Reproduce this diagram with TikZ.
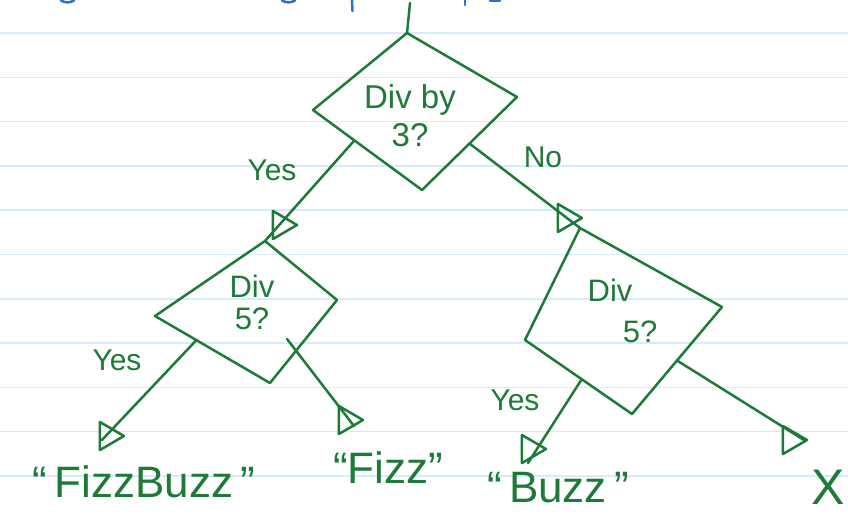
\documentclass[tikz,border=0pt]{standalone}
\usepackage{fontspec}
\setmainfont{Liberation Sans}
\usetikzlibrary{shapes.geometric,calc}
\definecolor{ink}{RGB}{30,122,56}
\definecolor{ruleblue}{RGB}{214,236,250}
\definecolor{blueink}{RGB}{50,110,205}
\begin{document}
\begin{tikzpicture}[x=1pt,y=-1pt,line cap=round,line join=round,
  edge/.style={draw=ink,line width=2.5pt},
  tipmark/.style={isosceles triangle,isosceles triangle stretches,draw=ink,line width=2.5pt,
    minimum width=28pt,minimum height=24pt,inner sep=0pt},
  lbl/.style={text=ink,font=\fontsize{30}{32}\selectfont},
  dtext/.style={text=ink,font=\fontsize{33}{38}\selectfont,align=center},
  dtextsm/.style={text=ink,font=\fontsize{31}{32}\selectfont,align=center},
  answer/.style={text=ink,font=\fontsize{44}{46}\selectfont,inner sep=1pt},
  paperline/.style={draw=ruleblue,line width=1.5pt},
  bluefrag/.style={draw=blueink,line width=2.5pt}]
\useasboundingbox (0,0) rectangle (848,515);
\fill[white] (0,0) rectangle (848,515);
\foreach \yy in {33,77.3,...,480} \draw[paperline] (0,\yy) -- (848,\yy);
% cut-off blue writing at the top
\draw[bluefrag] (61,0.5) .. controls (65,3) and (70,3) .. (74,0.5);
\draw[bluefrag] (282,0.5) .. controls (286,3) and (291,3) .. (295,0.5);
\draw[bluefrag] (352,0) -- (352.5,11);
\draw[bluefrag] (465,0) -- (465,5);
\draw[bluefrag] (490,0.3) -- (500,0.3);
% diamond 1
\coordinate (d1t) at (407,33);
\coordinate (d1r) at (517,97);
\coordinate (d1b) at (422,190);
\coordinate (d1l) at (313,110);
\draw[edge] (d1t) -- (d1r) -- (d1b) -- (d1l) -- cycle;
\node[dtext] (d1txt) at (410,116) {Div by\\3?};
% diamond 2
\coordinate (d2t) at (265,241);
\coordinate (d2r) at (337,300);
\coordinate (d2b) at (270,383);
\coordinate (d2l) at (155,316);
\draw[edge] (d2t) -- (d2r) -- (d2b) -- (d2l) -- cycle;
\node[dtextsm] (d2txt) at (252,302) {Div\\5?};
% diamond 3
\coordinate (d3t) at (580,228);
\coordinate (d3r) at (722,307);
\coordinate (d3b) at (632,414);
\coordinate (d3l) at (525,340);
\draw[edge] (d3t) -- (d3r) -- (d3b) -- (d3l) -- cycle;
\node[dtextsm] (d3txta) at (610,290) {Div};
\node[dtextsm] (d3txtb) at (640,332) {5?};
% entry
\coordinate (entry) at (410,3);
\draw[edge] (entry) -- (d1t);
% edges
\coordinate (d1y) at ($(d1l)!0.38!(d1b)$);
\coordinate (d1n) at ($(d1r)!0.5!(d1b)$);
\coordinate (d2y) at ($(d2l)!0.36!(d2b)$);
\coordinate (d2n) at (287,339);
\coordinate (d3y) at ($(d3l)!0.53!(d3b)$);
\coordinate (d3n) at ($(d3r)!0.5!(d3b)$);
\coordinate (endfb) at (102,440);
\coordinate (endf) at (354,426);
\coordinate (endb) at (528,463);
\coordinate (endx) at (804,440);
\draw[edge] (d1y) -- (d2t);
\draw[edge] (d1n) -- (d3t);
\draw[edge] (d2y) -- (endfb);
\draw[edge] (d2n) -- (endf);
\draw[edge] (d3y) -- (endb);
\draw[edge] (d3n) -- (endx);
\node[tipmark] (t1) at (281,225) {};
\node[tipmark] (t2) at (566,218) {};
\node[tipmark] (t3) at (108,436) {};
\node[tipmark] (t4) at (347,420) {};
\node[tipmark] (t5) at (530,449) {};
\node[tipmark] (t6) at (791,440) {};
% labels
\node[lbl] (yes1) at (272,170) {Yes};
\node[lbl] (no1) at (543,157) {No};
\node[lbl] (yes2) at (117,360) {Yes};
\node[lbl] (yes3) at (515,400) {Yes};
% answers
\node[answer] (fizzbuzz) at (144,482) {“\,FizzBuzz\,”};
\node[answer] (fizz) at (388,468) {“Fizz”};
\node[answer] (buzz) at (558,488) {“\,Buzz\,”};
\node[text=ink,font=\fontsize{50}{52}\selectfont,inner sep=1pt] (xres) at (828,487) {X};
\end{tikzpicture}
\end{document}
